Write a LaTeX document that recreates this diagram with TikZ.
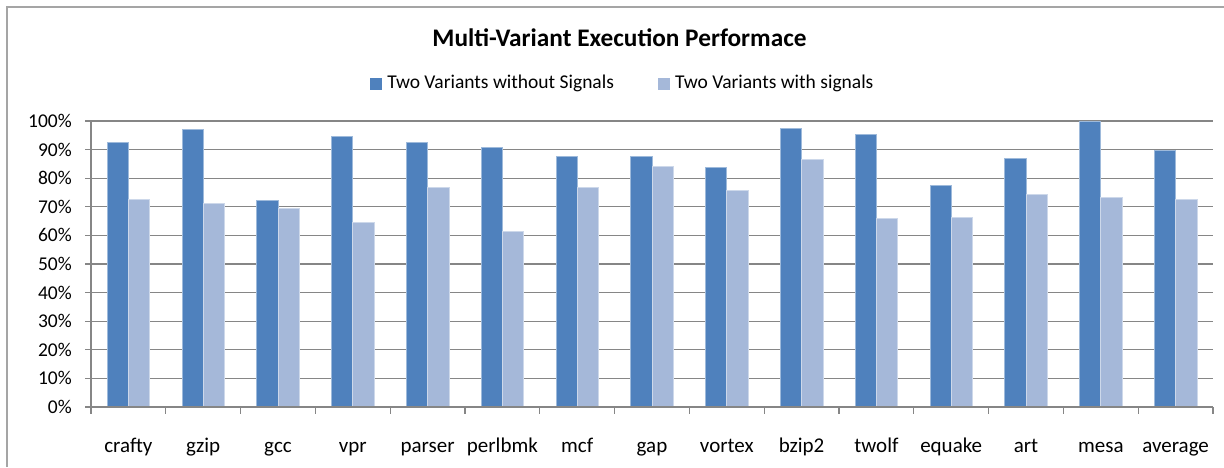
\documentclass[tikz,border=0pt]{standalone}
\usepackage{fontspec}
\setmainfont{Carlito}
\usetikzlibrary{positioning}
\definecolor{darkbar}{RGB}{79,129,189}
\definecolor{lightbar}{RGB}{165,184,217}
\definecolor{gridgray}{RGB}{134,134,134}
\definecolor{framegray}{RGB}{165,165,165}

\begin{document}
\begin{tikzpicture}[x=1pt,y=-1pt,
  gridline/.style={draw=gridgray, line width=1.3pt},
  barA/.style={fill=darkbar, draw=darkbar!55!white, line width=0.7pt},
  barB/.style={fill=lightbar, draw=lightbar!55!white, line width=0.7pt},
  ticklabel/.style={font=\fontsize{19.5}{20}\selectfont, inner sep=0pt},
  catlabel/.style={font=\fontsize{21}{21}\selectfont, inner sep=0pt},
  keybox/.style={minimum size=11.5pt, inner sep=0pt}]

\useasboundingbox (0,0) rectangle (1224,467);
\fill [white] (0,0) rectangle (1224,467);
\draw [framegray, line width=2pt] (7,467) -- (7,7) -- (1224,7);

\node (title) [anchor=base, font=\fontsize{25.3}{26}\selectfont\bfseries, inner sep=0pt] at (619.5,46.7) {Multi-Variant Execution Performace};

\node (keyA) [keybox, fill=darkbar] at (376.2,83.8) {};
\node (keyAtext) [ticklabel, anchor=west, right=5pt of keyA] {Two Variants without Signals};
\node (keyB) [keybox, fill=lightbar] at (664,83.8) {};
\node (keyBtext) [ticklabel, anchor=west, right=5pt of keyB] {Two Variants with signals};

\foreach \v in {1,...,10}
{\draw [gridline] (85,407-28.6*\v) -- (1213,407-28.6*\v);}

\foreach \v [evaluate=\v as \p using int(10*\v)] in {0,...,10}
{\node (ylab\v) [ticklabel, anchor=base east] at (72,413.5-28.6*\v) {\p\%};}

\foreach \name/\a/\b [count=\i from 0] in {crafty/92.7/72.6, gzip/97.1/71.2, gcc/72.4/69.5,
  vpr/94.8/64.6, parser/92.7/76.7, perlbmk/90.8/61.5, mcf/87.8/76.7, gap/87.8/84.3,
  vortex/83.8/75.8, bzip2/97.4/86.7, twolf/95.3/66.0, equake/77.5/66.2, art/87.1/74.4,
  mesa/99.8/73.4, average/89.9/72.7}
{
\pgfmathsetmacro\c{91+74.8*(\i+0.5)}
\filldraw [barA] (\c-21.3,407) rectangle (\c,407-2.86*\a);
\filldraw [barB] (\c,407) rectangle (\c+21.3,407-2.86*\b);
\node (cat\i) [catlabel, anchor=base] at (\c,452) {\name};
}

\foreach \i in {0,...,15}
{\draw [gridgray, line width=1.3pt] (91+74.8*\i,407) -- ++(0,6.5);}

\draw [gridgray, line width=1.3pt] (85,407) -- (1213,407);
\draw [gridgray, line width=1.3pt] (91,121) -- (91,413.5);

\end{tikzpicture}
\end{document}
